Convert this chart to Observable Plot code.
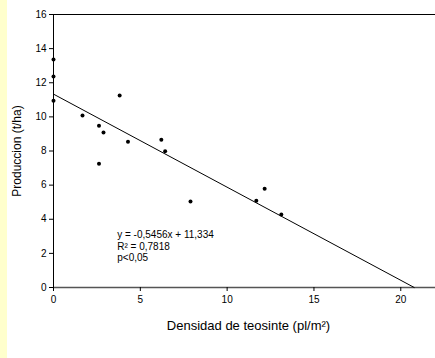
<!DOCTYPE html>
<html>
<head>
<meta charset="utf-8">
<script src="https://cdn.jsdelivr.net/npm/d3@7"></script>
<script src="https://cdn.jsdelivr.net/npm/@observablehq/plot@0.6"></script>
<style>
  html, body { margin: 0; padding: 0; background: #fff; }
  #chart { position: relative; width: 435px; height: 358px; }
  #strip { position: absolute; left: 0; top: 0; width: 7px; height: 358px; background: #ffffcc; }
</style>
</head>
<body>
<div id="chart"><div id="strip"></div></div>
<script>
// Density of teosinte (pl/m2)
const densidad = [0, 0, 0, 1.67, 2.62, 2.88, 3.81, 4.29, 2.62, 6.21, 6.43, 7.89, 11.68, 12.16, 13.12];
// Yield (t/ha)
const produccion = [13.36, 12.37, 10.94, 10.08, 9.48, 9.09, 11.25, 8.54, 7.25, 8.66, 7.99, 5.04, 5.08, 5.79, 4.28];
// Regression
const slope = -0.5456;
const intercept = 11.334;
const xTicks = [0, 5, 10, 15, 20];
const yTicks = [0, 2, 4, 6, 8, 10, 12, 14, 16];
const annotation = ["y = -0,5456x + 11,334", "R\u00B2 = 0,7818", "p<0,05"];

const points = densidad.map((d, i) => ({x: d, y: produccion[i]}));
const xEnd = -intercept / slope;
const fit = [{x: 0, y: intercept}, {x: xEnd, y: 0}];

const font = "'Liberation Sans', Arial, sans-serif";

const chart = Plot.plot({
  width: 435,
  height: 358,
  marginLeft: 53,
  marginRight: 0,
  marginTop: 14,
  marginBottom: 71,
  style: {fontFamily: font, fontSize: "10px", color: "#000", background: "transparent", overflow: "visible"},
  x: {domain: [0, 22]},
  y: {domain: [0, 16]},
  marks: [
    Plot.ruleY([16], {stroke: "#000", strokeWidth: 1}),
    Plot.ruleY([0], {stroke: "#555", strokeWidth: 1.5}),
    Plot.ruleX([0], {stroke: "#000", strokeWidth: 1}),
    Plot.axisY({ticks: yTicks, tickSize: 4, tickPadding: 3, label: null, fontSize: 10}),
    Plot.axisX({ticks: xTicks, tickSize: 4, tickPadding: 4, label: null, fontSize: 10}),
    Plot.line(fit, {x: "x", y: "y", stroke: "#000", strokeWidth: 1}),
    Plot.dot(points, {x: "x", y: "y", r: 2, fill: "#000", stroke: null}),
    Plot.text([annotation.join("\n")], {
      x: 3.67, y: 3.4,
      text: d => d,
      textAnchor: "start", lineAnchor: "top", lineHeight: 1.18,
      fontSize: 10, fill: "#000"
    }),
    Plot.text(["Produccion (t/ha)"], {frameAnchor: "left", textAnchor: "middle", rotate: -90, dx: -36, fontSize: 12, fill: "#000"}),
    Plot.text(["Densidad de teosinte (pl/m\u00B2)"], {frameAnchor: "bottom", textAnchor: "middle", dx: 4, dy: 42, fontSize: 13, fill: "#000"})
  ]
});
document.getElementById("chart").appendChild(chart);
</script>
</body>
</html>
